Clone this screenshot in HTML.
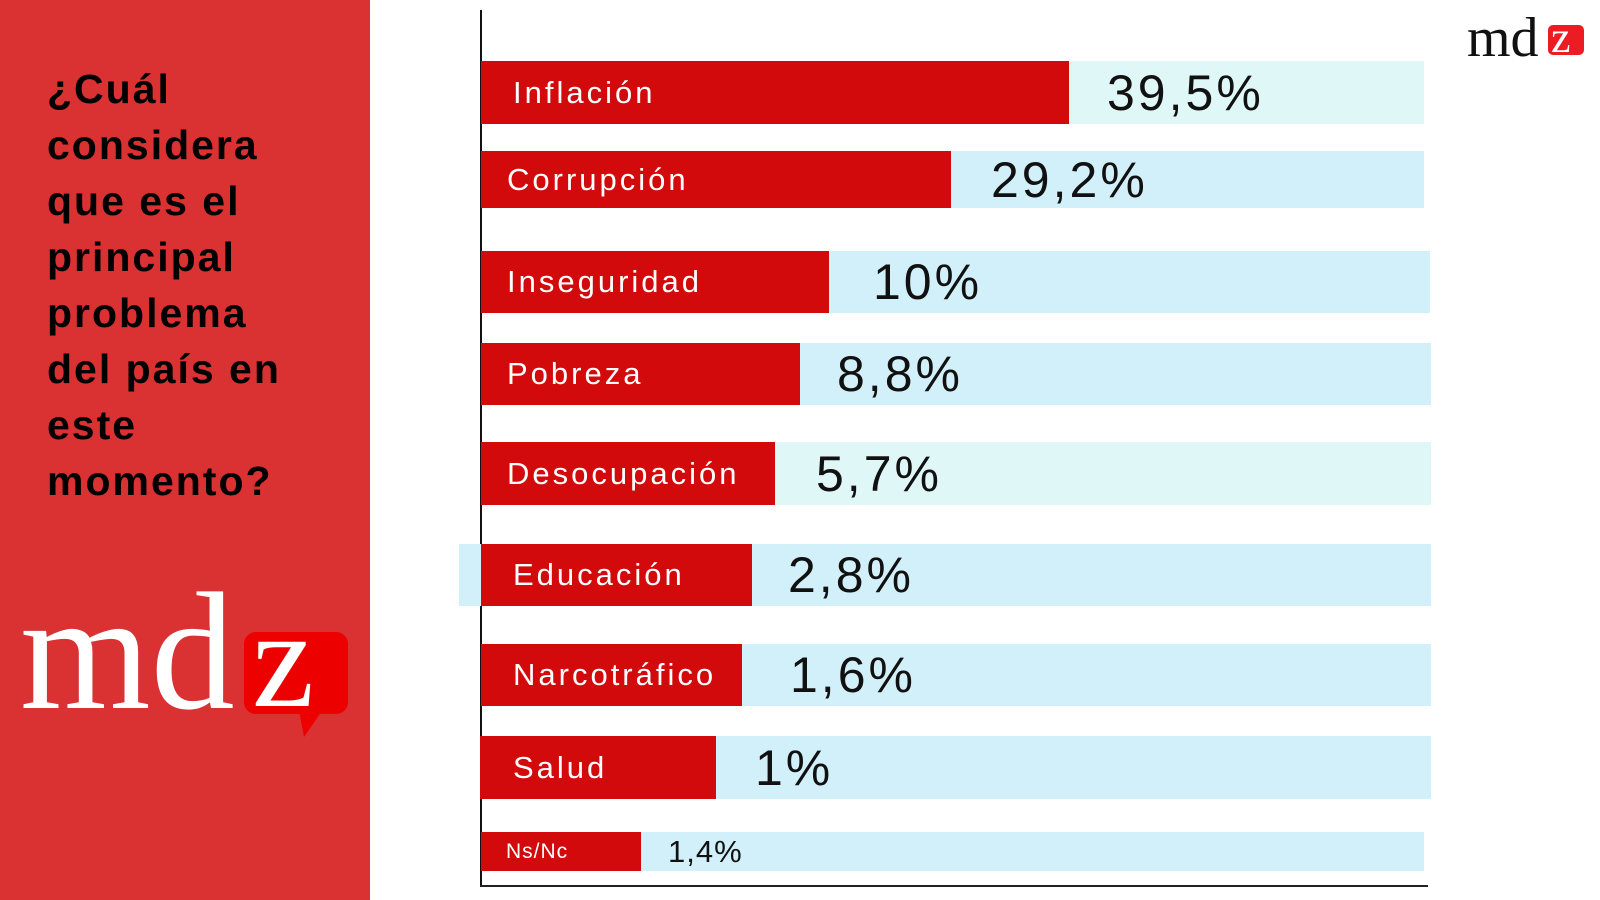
<!DOCTYPE html>
<html><head><meta charset="utf-8"><style>
*{margin:0;padding:0;box-sizing:border-box}
body{width:1600px;height:900px;background:#fff;position:relative;overflow:hidden;font-family:"Liberation Sans",sans-serif}
.a{position:absolute}
.panel{left:0;top:0;width:370px;height:900px;background:#da3133}
.title{left:47px;top:61px;font-weight:bold;font-size:41px;line-height:56px;color:#000;width:320px;letter-spacing:2px}
.bg{position:absolute;background:#d2f0f9}
.bg.l{background:#e0f7f8}
.red{position:absolute;left:481px;background:#d20a0b;color:#fff;font-size:31px;letter-spacing:3px;display:flex;align-items:center}
.val{position:absolute;font-size:50px;color:#111;display:flex;align-items:center;letter-spacing:3px}
.serif{font-family:"Liberation Serif",serif}
</style></head><body>
<div class="a panel"></div>
<div class="a title">¿Cuál<br>considera<br>que es el<br>principal<br>problema<br>del país en<br>este<br>momento?</div>

<div class="a serif" style="left:20px;top:568px;font-size:168px;color:#fff;line-height:1">md</div>
<div class="a" style="left:244px;top:632px;width:104px;height:82px;background:#ec0000;border-radius:12px"></div>
<div class="a" style="left:300px;top:705px;width:0;height:0;border-left:6px solid transparent;border-right:22px solid transparent;border-top:32px solid #ec0000;transform:translateX(-2px)"></div>
<div class="a serif" style="left:252px;top:590px;font-size:140px;color:#fff;line-height:1">z</div>

<div class="a serif" style="left:1467px;top:10px;font-size:56px;color:#111;line-height:1">md</div>
<div class="a" style="left:1548px;top:25px;width:36px;height:30px;background:#ec1c24;border-radius:5px"></div>
<div class="a serif" style="left:1551px;top:16px;font-size:44px;color:#fff;line-height:1">z</div>

<div class="a" style="left:480px;top:10px;width:2px;height:877px;background:#111"></div>
<div class="a" style="left:480px;top:885px;width:948px;height:2px;background:#222"></div>

<div class="bg l" style="left:482px;top:61px;width:942px;height:63px"></div>
<div class="red" style="top:61px;width:588px;height:63px;padding-left:32px">Inflación</div>
<div class="val" style="left:1107px;top:61px;height:63px">39,5%</div>

<div class="bg" style="left:482px;top:151px;width:942px;height:57px"></div>
<div class="red" style="top:151px;width:470px;height:57px;padding-left:26px">Corrupción</div>
<div class="val" style="left:991px;top:151px;height:57px">29,2%</div>

<div class="bg" style="left:482px;top:251px;width:948px;height:62px"></div>
<div class="red" style="top:251px;width:348px;height:62px;padding-left:26px">Inseguridad</div>
<div class="val" style="left:873px;top:251px;height:62px">10%</div>

<div class="bg" style="left:482px;top:343px;width:949px;height:62px"></div>
<div class="red" style="top:343px;width:319px;height:62px;padding-left:26px">Pobreza</div>
<div class="val" style="left:837px;top:343px;height:62px">8,8%</div>

<div class="bg l" style="left:482px;top:442px;width:949px;height:63px"></div>
<div class="red" style="top:442px;width:294px;height:63px;padding-left:26px">Desocupación</div>
<div class="val" style="left:816px;top:442px;height:63px">5,7%</div>

<div class="bg" style="left:459px;top:544px;width:972px;height:62px"></div>
<div class="red" style="top:544px;width:271px;height:62px;padding-left:32px">Educación</div>
<div class="val" style="left:788px;top:544px;height:62px">2,8%</div>

<div class="bg" style="left:482px;top:644px;width:949px;height:62px"></div>
<div class="red" style="top:644px;width:261px;height:62px;padding-left:32px">Narcotráfico</div>
<div class="val" style="left:790px;top:644px;height:62px">1,6%</div>

<div class="bg" style="left:482px;top:736px;width:949px;height:63px"></div>
<div class="red" style="left:480px;top:736px;width:236px;height:63px;padding-left:33px">Salud</div>
<div class="val" style="left:755px;top:736px;height:63px">1%</div>

<div class="bg" style="left:482px;top:832px;width:942px;height:39px"></div>
<div class="red" style="top:832px;width:160px;height:39px;padding-left:25px;font-size:21px;letter-spacing:1px">Ns/Nc</div>
<div class="val" style="left:668px;top:832px;height:39px;font-size:31px;letter-spacing:1px">1,4%</div>
</body></html>
